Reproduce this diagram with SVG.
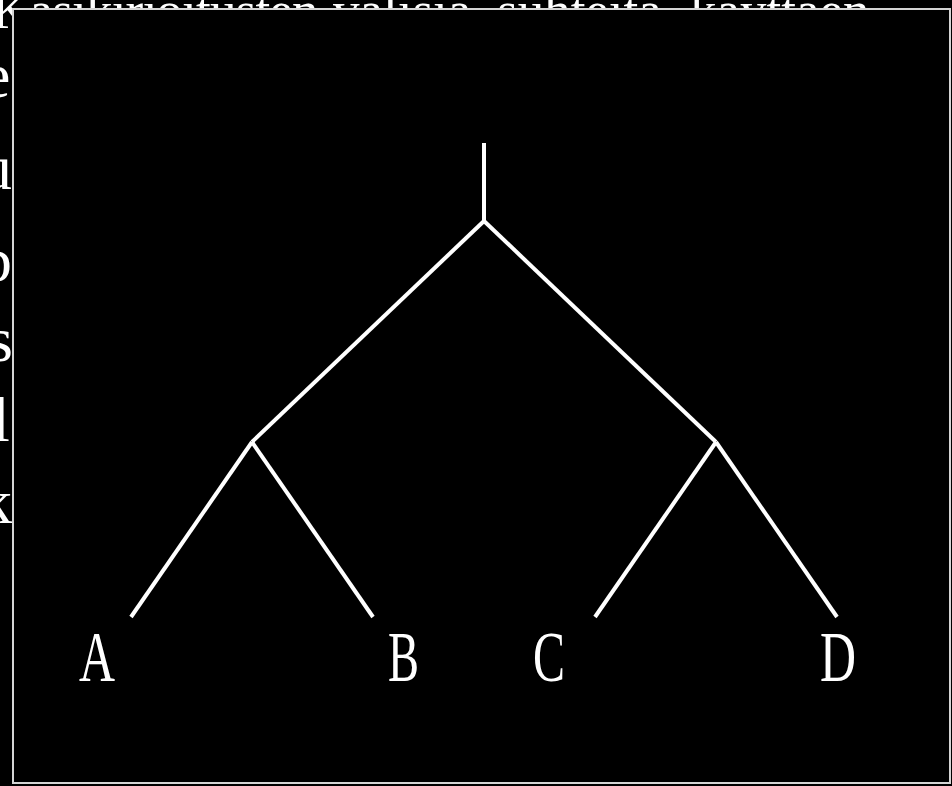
<svg xmlns="http://www.w3.org/2000/svg" width="952" height="786" viewBox="0 0 952 786">
  <style>
    .bg { fill: #000000; }
    .frame { fill: #000000; stroke: #d4d4d4; stroke-width: 2; }
    .under { fill: #ffffff; font-family: "Liberation Serif", "Times New Roman", serif; }
    .edge { stroke: #ffffff; stroke-width: 4; fill: none; stroke-linecap: butt; }
    .label { fill: #ffffff; font-family: "Liberation Serif", "Times New Roman", serif; font-size: 72px; }
  </style>
  <rect class="bg" x="0" y="0" width="952" height="786"/>
  <g id="background-text">
    <text class="under" y="28" font-size="53"><tspan x="-8" letter-spacing="-0.8">Käsikirjoitusten</tspan><tspan x="333">välisiä</tspan><tspan x="497">suhteita</tspan><tspan x="690">käyttäen</tspan></text>
    <text class="under" x="-18" y="97" font-size="64">e</text>
    <text class="under" x="-20" y="189" font-size="64">u</text>
    <text class="under" x="-20" y="281" font-size="64">p</text>
    <text class="under" x="-12" y="361" font-size="64">s</text>
    <text class="under" x="-8" y="441" font-size="64">l</text>
    <text class="under" x="-20" y="523" font-size="64">k</text>
  </g>
  <rect class="frame" x="13" y="9" width="937" height="774"/>
  <g id="connectors">
    <line class="edge" x1="484" y1="143" x2="484" y2="221"/>
    <line class="edge" x1="484" y1="221" x2="252" y2="442"/>
    <line class="edge" x1="484" y1="221" x2="716" y2="442"/>
    <line class="edge" x1="252" y1="442" x2="131" y2="617"/>
    <line class="edge" x1="252" y1="442" x2="373" y2="617"/>
    <line class="edge" x1="716" y1="442" x2="595" y2="617"/>
    <line class="edge" x1="716" y1="442" x2="837" y2="617"/>
  </g>
  <g id="node-A"><text class="label" x="79" y="681" textLength="36" lengthAdjust="spacingAndGlyphs">A</text></g>
  <g id="node-B"><text class="label" x="388" y="681" textLength="31" lengthAdjust="spacingAndGlyphs">B</text></g>
  <g id="node-C"><text class="label" x="533" y="681" textLength="32" lengthAdjust="spacingAndGlyphs">C</text></g>
  <g id="node-D"><text class="label" x="820" y="681" textLength="36" lengthAdjust="spacingAndGlyphs">D</text></g>
</svg>
